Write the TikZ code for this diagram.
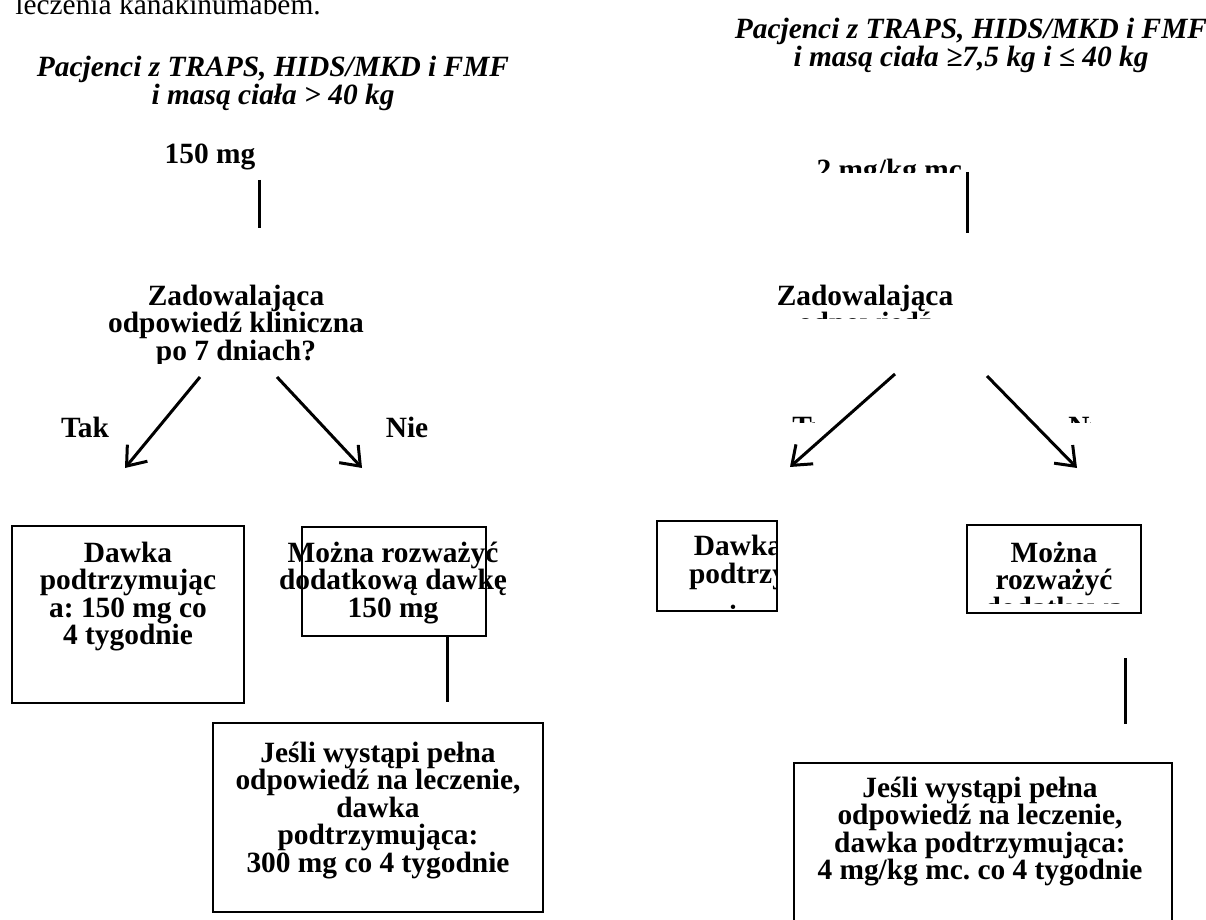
\documentclass[tikz,border=0pt]{standalone}
\usepackage{fontspec}
\setmainfont{Liberation Serif}
\usetikzlibrary{arrows.meta}
\frenchspacing
\begin{document}
\begin{tikzpicture}[x=0.5pt,y=-0.5pt,
  txt/.style={font=\fontsize{14.7}{13.8}\selectfont\bfseries, align=center, inner sep=0pt, anchor=base},
  ttl/.style={font=\fontsize{14.7}{13.8}\selectfont\bfseries\itshape, align=center, inner sep=0pt, anchor=base},
  plain/.style={font=\fontsize{14.7}{13.8}\selectfont, inner sep=0pt, anchor=base west},
  box/.style={draw, line width=1pt, inner sep=0pt},
  conn/.style={line width=1.5pt},
  arr/.style={line width=1.5pt, -{Straight Barb[length=8.5pt,width=13pt]}}
]
\useasboundingbox (0,0) rectangle (1206,920);
\clip (0,0) rectangle (1206,920);

% (anchor=base of a multi-line node = baseline of its last line)

% ---------- top fragment
\node[plain] (frag) at (15,15) {leczenia kanakinumabem.};

% ---------- left column
\node[ttl] (titL) at (273,104.6) {Pacjenci z TRAPS, HIDS/MKD i FMF\\i masą ciała > 40 kg};
\node[txt] (doseL) at (210,163) {150 mg};
\coordinate (vL1) at (259,180); \coordinate (vL2) at (259,228);
\draw[conn] (vL1) -- (vL2);

\begin{scope}
  \clip (0,250) rectangle (600,363);
  \node[txt] (qL) at (236,360.2) {Zadowalająca\\odpowiedź kliniczna\\po 7 dniach?};
\end{scope}

\coordinate (aL1s) at (200,377); \coordinate (aL1e) at (125,468);
\coordinate (aL2s) at (277,377); \coordinate (aL2e) at (362,468);
\draw[arr] (aL1s) -- (aL1e);
\draw[arr] (aL2s) -- (aL2e);
\node[txt] (takL) at (85,437) {Tak};
\node[txt] (nieL) at (407,437) {Nie};

\node[box, minimum width=116pt, minimum height=88.5pt] (bL1) at (128,614.5) {};
\node[txt] (tL1) at (128,644.8) {Dawka\\podtrzymując\\a: 150 mg co\\4 tygodnie};

\node[box, minimum width=92pt, minimum height=54.5pt] (bL2) at (394,581.5) {};
\node[txt] (tL2) at (393,617.2) {Można rozważyć\\dodatkową dawkę\\150 mg};

\coordinate (vM1) at (447,636); \coordinate (vM2) at (447,702);
\draw[conn] (vM1) -- (vM2);

\node[box, minimum width=165pt, minimum height=94.5pt] (bL3) at (378,817.5) {};
\node[txt] (tL3) at (378,872.4) {Jeśli wystąpi pełna\\odpowiedź na leczenie,\\dawka\\podtrzymująca:\\300 mg co 4 tygodnie};

% ---------- right column
\node[ttl] (titR) at (971,66.6) {Pacjenci z TRAPS, HIDS/MKD i FMF\\i masą ciała ≥7,5 kg i ≤ 40 kg};

\begin{scope}
  \clip (700,120) rectangle (1100,173);
  \node[txt] (doseR) at (893,180) {2 mg/kg mc.};
\end{scope}
\coordinate (vR1) at (967,172); \coordinate (vR2) at (967,233);
\draw[conn] (vR1) -- (vR2);

\begin{scope}
  \clip (700,260) rectangle (1100,318);
  \node[txt] (qR) at (865,332.6) {Zadowalająca\\odpowiedź};
\end{scope}

\coordinate (aR1s) at (895,374); \coordinate (aR1e) at (790,467);
\coordinate (aR2s) at (987,376); \coordinate (aR2e) at (1077,468);
\draw[arr] (aR1s) -- (aR1e);
\draw[arr] (aR2s) -- (aR2e);

\begin{scope}
  \clip (785,400) rectangle (814,422);
  \node[txt, anchor=base west] (takR) at (792,436) {Tak};
\end{scope}
\begin{scope}
  \clip (1060,400) rectangle (1090,422);
  \node[txt, anchor=base west] (nieR) at (1068,436) {Nie};
\end{scope}

\node[box, minimum width=60pt, minimum height=45pt] (bR1) at (717,566) {};
\begin{scope}
  \clip (659,523) rectangle (776,609);
  \node[txt] (tR1) at (738,625) {Dawka\\podtrzy\\[7pt]mująca:};
\end{scope}

\node[box, minimum width=87pt, minimum height=44pt] (bR2) at (1054,569) {};
\begin{scope}
  \clip (969,527) rectangle (1139,603);
  \node[txt] (tR2) at (1054,617.2) {Można\\rozważyć\\dodatkową};
\end{scope}

\coordinate (vR3) at (1125,658); \coordinate (vR4) at (1125,724);
\draw[conn] (vR3) -- (vR4);

\node[box, minimum width=189pt, minimum height=98.5pt] (bR3) at (983,861.5) {};
\node[txt] (tR3) at (980,879.8) {Jeśli wystąpi pełna\\odpowiedź na leczenie,\\dawka podtrzymująca:\\4 mg/kg mc. co 4 tygodnie};
\end{tikzpicture}
\end{document}
